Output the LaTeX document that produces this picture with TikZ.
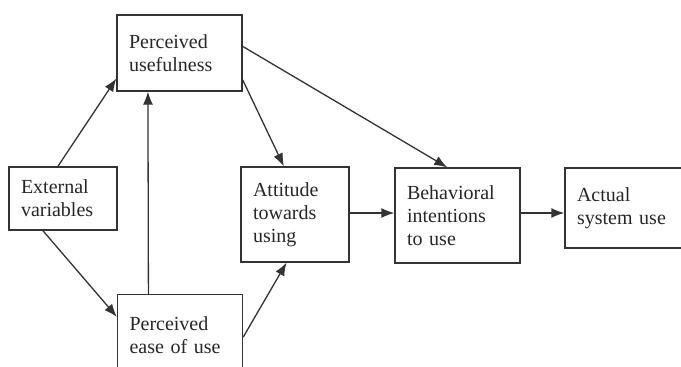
\documentclass[tikz,border=0pt]{standalone}
\usepackage{fontspec}
\setmainfont{Liberation Serif}
\usetikzlibrary{arrows.meta, calc}

\tikzset{
	blok/.style={draw=black!80, line width=1.3pt, align=left, inner xsep=12pt, inner ysep=0pt, text=black!85, font=\fontsize{20}{23}\selectfont},
	conn/.style={draw=black!80, line width=1.3pt, -{Latex[length=13pt,width=10pt]}}
}

\begin{document}
\begin{tikzpicture}[x=1pt, y=-1pt]
	\useasboundingbox (0,0) rectangle (681,367);
	\clip (0,0) rectangle (681,367);
	% boxes
	\node[blok, text width=84pt, minimum height=63pt] (ext) at (63,198.5) {External\\variables};
	\node[blok, text width=101pt, minimum height=76pt] (pu) at (179.5,53) {Perceived\\usefulness};
	\node[blok, text width=101pt, minimum height=81pt] (peou) at (180,335) {Perceived\\ease of use};
	\node[blok, text width=84pt, minimum height=95pt] (att) at (295,214.5) {Attitude\\towards\\using};
	\node[blok, text width=101pt, minimum height=95pt] (bi) at (457.5,215.5) {Behavioral\\intentions\\to use};
	\node[blok, text width=101pt, minimum height=80pt] (asu) at (627.5,208) {Actual\\system use};
	% arrows
	\draw[conn] (ext.99) -- (pu.202);
	\draw[conn] (ext.238) -- (peou.164);
	\draw[conn] ($(peou.north west)!.25!(peou.north east)$) -- ($(pu.south west)!.25!(pu.south east)$);
	\draw[conn] (pu.-23) -- (att.103);
	\draw[conn] (pu.6) -- (bi.102);
	\draw[conn] (peou.-2) -- (att.260);
	\draw[conn] ($(att.east)+(0,-1.5)$) -- ($(att.east -| bi.west)+(0,-1.5)$);
	\draw[conn] ($(bi.east)+(0,-2.5)$) -- ($(bi.east -| asu.west)+(0,-2.5)$);
\end{tikzpicture}
\end{document}
